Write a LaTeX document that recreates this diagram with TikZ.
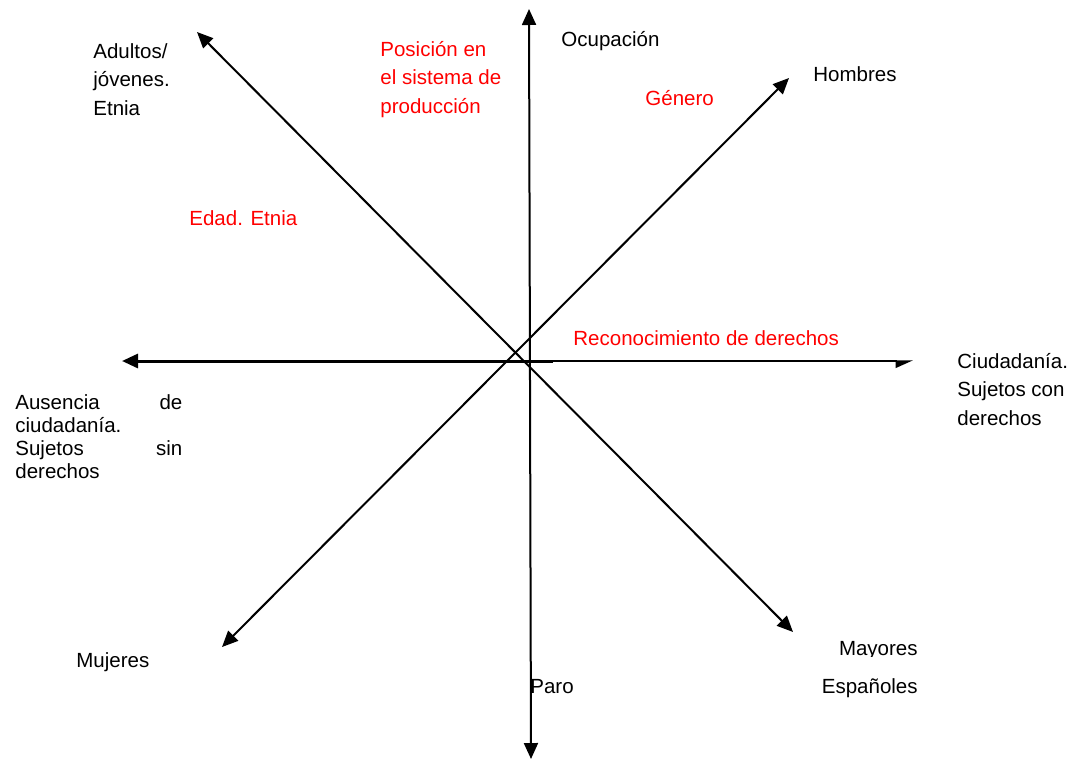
\documentclass[tikz,border=0pt]{standalone}
\usepackage{fontspec}
\setmainfont{Liberation Sans}
\usepackage{tikz}
\usepackage{xcolor}
\usetikzlibrary{arrows.meta}
\tikzset{
    axis-line/.style = {draw=black, line width=1pt, {Triangle[length=8pt, width=7pt]}-{Triangle[length=8pt, width=7pt]}},
    pole-label/.style = {inner sep=0pt, align=left, font=\fontsize{10.25}{14.25}\selectfont},
    red-label/.style = {pole-label, text=red},
}

\begin{document}
\begin{tikzpicture}[x=0.5pt, y=-0.5pt]
\useasboundingbox (0,0) rectangle (1074,760);

% ends of the axes
\coordinate (north-tip) at (529,9);
\coordinate (south-tip) at (531,759);
\coordinate (west-tip) at (122,361);
\coordinate (west-start) at (553,361);
\coordinate (east-start) at (530,361);
\coordinate (east-tip) at (913,361);
\coordinate (nw-tip) at (197,32);
\coordinate (se-tip) at (793,632);
\coordinate (sw-tip) at (222,647);
\coordinate (ne-tip) at (789,78);

\draw[axis-line] (south-tip) -- (north-tip);
\draw[axis-line] (nw-tip) -- (se-tip);
\draw[axis-line] (sw-tip) -- (ne-tip);
\draw[line width=0.65pt, -{Triangle[harpoon, swap, length=8pt, width=7pt]}] (east-start) -- (east-tip);
\draw[line width=1.5pt, -{Triangle[length=8pt, width=7pt]}] (west-start) -- (west-tip);

% poles (base = last line)
\node[pole-label, anchor=base west] (adultos) at (93,115) {Adultos/\\j\'ovenes.\\Etnia};
\node[pole-label, anchor=base west] (ocupacion) at (561,46) {Ocupaci\'on};
\node[pole-label, anchor=base west] (hombres) at (813,81) {Hombres};
\node[pole-label, anchor=base west] (ciudadania) at (957,425) {Ciudadan\'ia.\\Sujetos con\\derechos};
\node[pole-label, anchor=base west, text width=83.5pt, font=\fontsize{10.25}{11.65}\selectfont] (ausencia) at (15,409)
    {Ausencia\hfill de\\ciudadan\'ia.\\Sujetos\hfill sin\\derechos};
\node[pole-label, anchor=base west] (mujeres) at (76,667) {Mujeres};
\node[pole-label, anchor=base west] (paro) at (530,693) {Paro};
\node[pole-label, anchor=base east] (espanoles) at (918,693) {Espa\~noles};
\begin{scope}
    \clip (800,620) rectangle (940,656);
    \node[pole-label, anchor=base east] (mayores) at (918,655) {Mayores};
\end{scope}

% dimensions
\node[red-label, anchor=base west] (posicion) at (380,113) {Posici\'on en\\el sistema de\\producci\'on};
\node[red-label, anchor=base west] (genero) at (645,105) {G\'enero};
\node[red-label, anchor=base west] (edad) at (189,225) {Edad. Etnia};
\node[red-label, anchor=base west] (reconocimiento) at (573,345) {Reconocimiento de derechos};
\end{tikzpicture}
\end{document}
